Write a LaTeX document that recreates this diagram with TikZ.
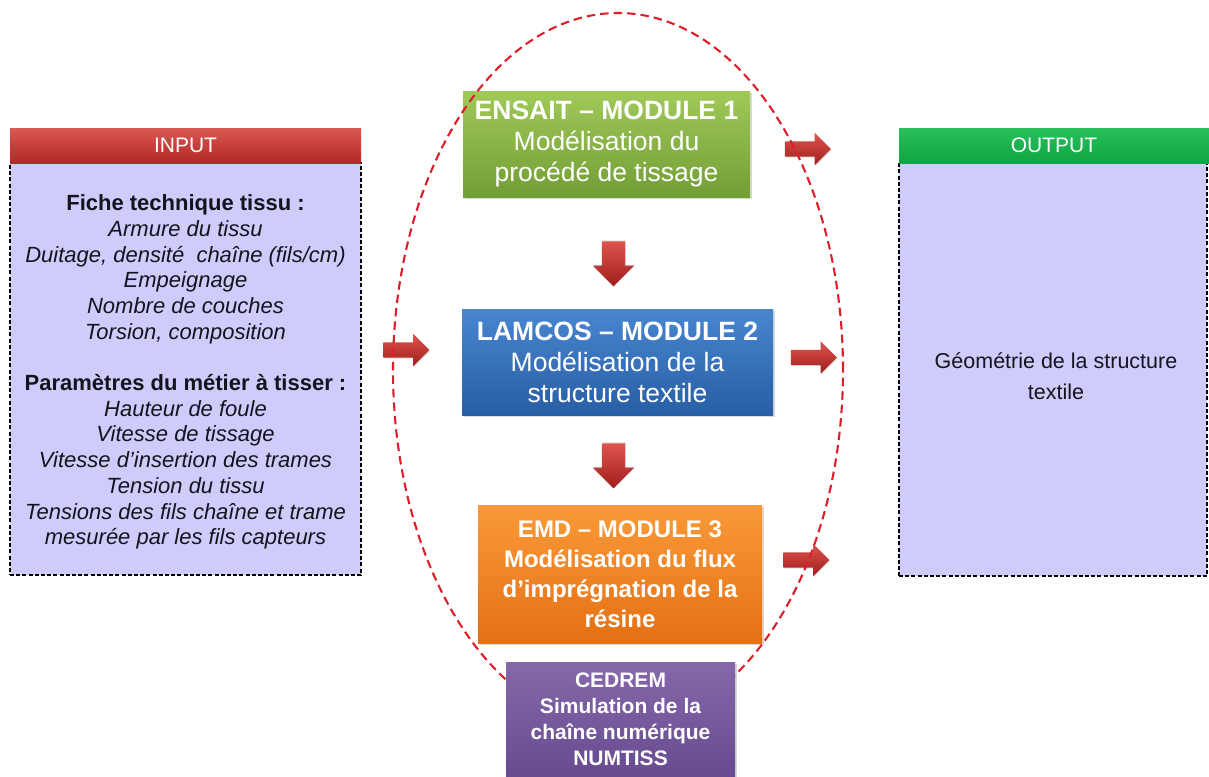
\documentclass[tikz,border=0pt]{standalone}
\usepackage{fontspec}
\setmainfont{Liberation Sans}
\usetikzlibrary{shapes.arrows,shadows}
\definecolor{lav}{RGB}{207,204,251}
\definecolor{inTop}{RGB}{218,88,82}
\definecolor{inBot}{RGB}{178,40,36}
\definecolor{outTop}{RGB}{40,192,92}
\definecolor{outBot}{RGB}{14,165,66}
\definecolor{grTop}{RGB}{160,201,88}
\definecolor{grBot}{RGB}{114,158,54}
\definecolor{blTop}{RGB}{72,134,208}
\definecolor{blBot}{RGB}{40,94,164}
\definecolor{orTop}{RGB}{250,154,56}
\definecolor{orBot}{RGB}{228,112,20}
\definecolor{puTop}{RGB}{134,104,170}
\definecolor{puBot}{RGB}{104,74,144}
\definecolor{arTop}{RGB}{222,84,78}
\definecolor{arBot}{RGB}{160,30,28}
\definecolor{loopred}{RGB}{222,30,40}
\definecolor{ink}{RGB}{20,20,30}
\begin{document}
\begin{tikzpicture}[x=1pt,y=-1pt,
  panel/.style={rectangle, inner sep=0pt, fill=lav, draw=black, line width=1.3pt,
    dash pattern=on 4pt off 2.2pt, text=ink, align=center},
  head/.style={rectangle, inner sep=0pt, text=white, align=center,
    font=\fontsize{21}{24}\selectfont},
  modbox/.style={rectangle, inner sep=0pt, text=white, align=center,
    drop shadow={shadow xshift=1.5pt, shadow yshift=-1.5pt, opacity=0.3}},
  rarrow/.style={single arrow, inner sep=0pt, top color=arTop, bottom color=arBot,
    single arrow head extend=8.5pt, minimum height=46pt, minimum width=32pt,
    drop shadow={shadow xshift=1pt, shadow yshift=-1pt, opacity=0.25}},
  darrow/.style={single arrow, rotate=-90, inner sep=0pt,
    top color=arTop, bottom color=arBot,
    single arrow head extend=9pt, minimum height=45pt, minimum width=41pt,
    drop shadow={shadow xshift=1pt, shadow yshift=1pt, opacity=0.25}},
  loop/.style={draw=loopred, line width=2.1pt, dash pattern=on 8.5pt off 5pt}
]
\useasboundingbox (0,0) rectangle (1209,776);

% INPUT panel
\node[panel, minimum width=351pt, minimum height=412pt] (inbody) at (185.5,369) {};
\node[text=ink, align=center, inner sep=0pt, font=\fontsize{22}{25.7}\selectfont]
  (intext) at (185.5,372)
  {\textbf{Fiche technique tissu :}\\
   \textit{Armure du tissu}\\
   \textit{Duitage, densité\ \ chaîne (fils/cm)}\\
   \textit{Empeignage}\\
   \textit{Nombre de couches}\\
   \textit{Torsion, composition}\\[25.7pt]
   \textbf{Paramètres du métier à tisser :}\\
   \textit{Hauteur de foule}\\
   \textit{Vitesse de tissage}\\
   \textit{Vitesse d’insertion des trames}\\
   \textit{Tension du tissu}\\
   \textit{Tensions des fils chaîne et trame}\\
   \textit{mesurée par les fils capteurs}};
\node[head, top color=inTop, bottom color=inBot, minimum width=351pt,
  minimum height=35pt] (inhead) at (185.5,145.5) {INPUT};

% OUTPUT panel
\node[panel, minimum width=308pt, minimum height=413pt] (outbody) at (1053,369.5) {};
\node[text=ink, align=center, font=\fontsize{21.5}{31}\selectfont] (outtext)
  at (1056,376) {Géométrie de la structure\\textile};
\node[head, top color=outTop, bottom color=outBot, minimum width=310pt,
  minimum height=35pt] (outhead) at (1054,145.5) {OUTPUT};

% modules
\node[modbox, top color=grTop, bottom color=grBot, minimum width=287pt,
  minimum height=106pt, font=\fontsize{26.5}{31}\selectfont] (m1) at (606.5,144)
  {\textbf{ENSAIT – MODULE 1}\\Modélisation du\\procédé de tissage};
\node[modbox, top color=blTop, bottom color=blBot, minimum width=311pt,
  minimum height=106pt, font=\fontsize{26.5}{31}\selectfont] (m2) at (617.5,362)
  {\textbf{LAMCOS – MODULE 2}\\Modélisation de la\\structure textile};
\node[modbox, top color=orTop, bottom color=orBot, minimum width=284pt,
  minimum height=138pt, font=\fontsize{24}{30}\selectfont\bfseries] (m3) at (620,574)
  {EMD – MODULE 3\\Modélisation du flux\\d’imprégnation de la\\résine};

% arrows
\node[rarrow] (ain) at (402.5,350) {\rule{0pt}{15pt}};
\node[rarrow] (a1) at (804,149) {\rule{0pt}{15pt}};
\node[rarrow] (a2) at (810,357.5) {\rule{0pt}{15pt}};
\node[rarrow] (a3) at (802.5,560) {\rule{0pt}{15pt}};
\node[darrow] (d1) at (613.5,258) {\rule{0pt}{23pt}};
\node[darrow] (d2) at (613.5,460) {\rule{0pt}{23pt}};

% dashed loop
\draw[loop] (618,370) ellipse [x radius=225pt, y radius=357pt];

% CEDREM
\node[modbox, top color=puTop, bottom color=puBot, minimum width=229pt,
  minimum height=114pt, font=\fontsize{21}{26}\selectfont\bfseries] (m4) at (620.5,719)
  {CEDREM\\Simulation de la\\chaîne numérique\\NUMTISS};
\end{tikzpicture}
\end{document}
